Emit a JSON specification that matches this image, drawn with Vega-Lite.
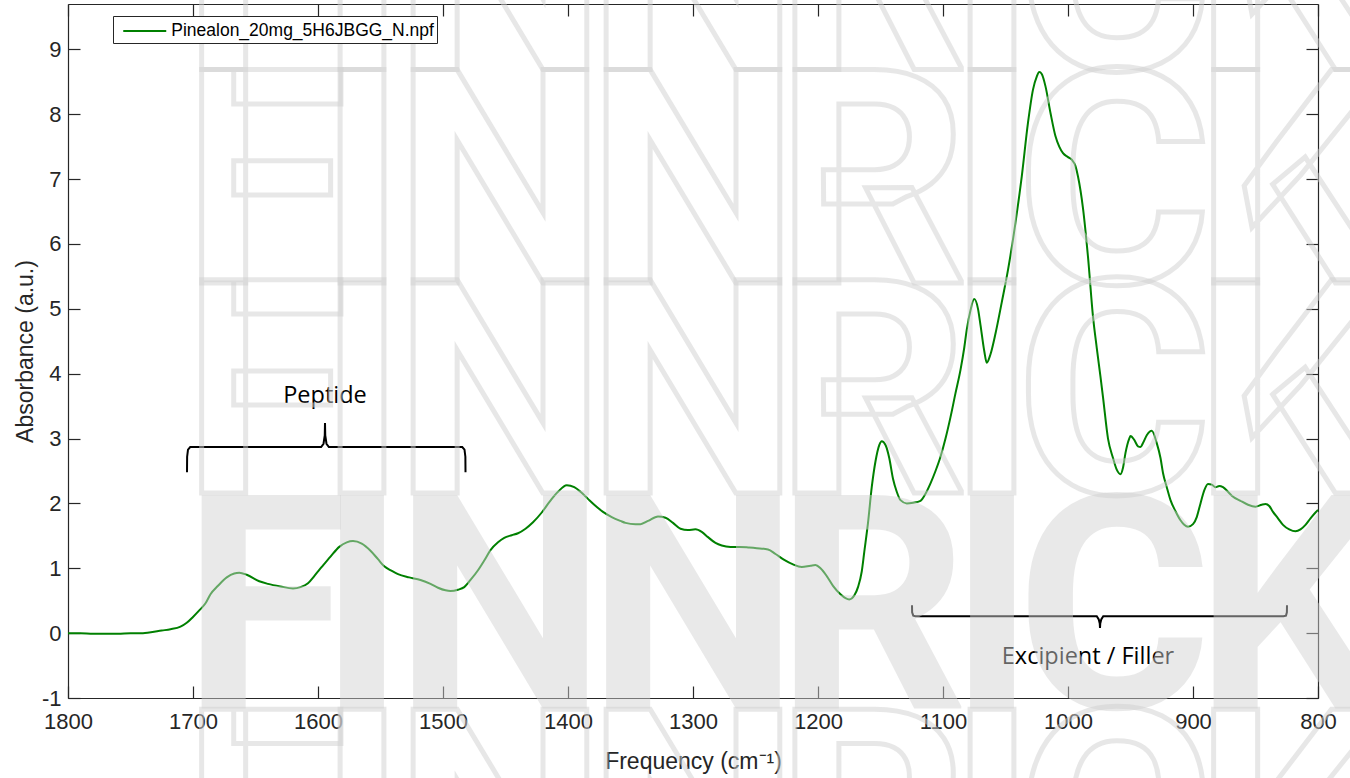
{
  "$schema": "https://vega.github.io/schema/vega-lite/v6.json",
  "width": 1250,
  "height": 694,
  "autosize": "none",
  "padding": {"left": 68, "top": 4, "right": 32, "bottom": 80},
  "background": "white",
  "config": {
    "view": {"stroke": null},
    "axis": {
      "domainColor": "#262626", "tickColor": "#262626", "labelColor": "#262626", "titleColor": "#262626",
      "labelFont": "Liberation Sans", "titleFont": "Liberation Sans", "labelFontSize": 22, "titleFontSize": 23,
      "titleFontWeight": "normal", "tickSize": -12, "grid": false, "zindex": 1, "domainWidth": 1.2, "tickWidth": 1.2,
      "labelFlush": false, "labelOverlap": false
    }
  },
  "datasets": {
    "spectrum": [
      {"x":1800,"y":0.0},{"x":1790,"y":0.0},{"x":1780,"y":-0.01},{"x":1770,"y":-0.01},{"x":1760,"y":-0.01},{"x":1750,"y":0.0},{"x":1740,"y":0.0},{"x":1735,"y":0.01},{"x":1725,"y":0.04},{"x":1718,"y":0.06},{"x":1710,"y":0.10},{"x":1705,"y":0.16},{"x":1700,"y":0.25},{"x":1695,"y":0.35},{"x":1690,"y":0.46},{"x":1686,"y":0.60},{"x":1680,"y":0.73},{"x":1673,"y":0.86},{"x":1667,"y":0.92},{"x":1663,"y":0.93},{"x":1657,"y":0.90},{"x":1647,"y":0.80},{"x":1640,"y":0.76},{"x":1630,"y":0.72},{"x":1620,"y":0.69},{"x":1614,"y":0.71},{"x":1608,"y":0.77},{"x":1603,"y":0.88},{"x":1597,"y":1.02},{"x":1590,"y":1.18},{"x":1583,"y":1.33},{"x":1577,"y":1.40},{"x":1572,"y":1.42},{"x":1565,"y":1.38},{"x":1558,"y":1.27},{"x":1552,"y":1.14},{"x":1547,"y":1.03},{"x":1541,"y":0.96},{"x":1536,"y":0.91},{"x":1527,"y":0.86},{"x":1518,"y":0.82},{"x":1510,"y":0.76},{"x":1504,"y":0.70},{"x":1498,"y":0.66},{"x":1494,"y":0.65},{"x":1488,"y":0.67},{"x":1483,"y":0.71},{"x":1478,"y":0.82},{"x":1472,"y":0.97},{"x":1467,"y":1.12},{"x":1462,"y":1.28},{"x":1456,"y":1.40},{"x":1451,"y":1.47},{"x":1445,"y":1.51},{"x":1440,"y":1.54},{"x":1434,"y":1.61},{"x":1428,"y":1.71},{"x":1421,"y":1.86},{"x":1415,"y":2.02},{"x":1408,"y":2.18},{"x":1401,"y":2.28},{"x":1395,"y":2.25},{"x":1390,"y":2.18},{"x":1384,"y":2.07},{"x":1379,"y":1.98},{"x":1372,"y":1.87},{"x":1365,"y":1.79},{"x":1358,"y":1.73},{"x":1354,"y":1.70},{"x":1346,"y":1.68},{"x":1342,"y":1.68},{"x":1336,"y":1.73},{"x":1328,"y":1.80},{"x":1322,"y":1.78},{"x":1316,"y":1.70},{"x":1310,"y":1.61},{"x":1304,"y":1.59},{"x":1298,"y":1.60},{"x":1293,"y":1.56},{"x":1288,"y":1.48},{"x":1282,"y":1.39},{"x":1277,"y":1.35},{"x":1270,"y":1.33},{"x":1263,"y":1.33},{"x":1255,"y":1.32},{"x":1249,"y":1.31},{"x":1240,"y":1.29},{"x":1234,"y":1.22},{"x":1227,"y":1.13},{"x":1220,"y":1.06},{"x":1213,"y":1.02},{"x":1206,"y":1.04},{"x":1202,"y":1.05},{"x":1198,"y":1.00},{"x":1193,"y":0.88},{"x":1188,"y":0.73},{"x":1182,"y":0.60},{"x":1178,"y":0.54},{"x":1175,"y":0.52},{"x":1171,"y":0.58},{"x":1168,"y":0.71},{"x":1165,"y":0.95},{"x":1163,"y":1.25},{"x":1160,"y":1.70},{"x":1157,"y":2.25},{"x":1154,"y":2.65},{"x":1151,"y":2.90},{"x":1149,"y":2.96},{"x":1146,"y":2.90},{"x":1143,"y":2.70},{"x":1140,"y":2.38},{"x":1137,"y":2.18},{"x":1134,"y":2.05},{"x":1129,"y":2.00},{"x":1124,"y":2.01},{"x":1118,"y":2.04},{"x":1114,"y":2.15},{"x":1110,"y":2.31},{"x":1106,"y":2.50},{"x":1102,"y":2.72},{"x":1098,"y":3.00},{"x":1094,"y":3.33},{"x":1090,"y":3.70},{"x":1086,"y":4.06},{"x":1083,"y":4.40},{"x":1081,"y":4.68},{"x":1078,"y":4.98},{"x":1075,"y":5.15},{"x":1072,"y":5.00},{"x":1070,"y":4.75},{"x":1067,"y":4.35},{"x":1065,"y":4.17},{"x":1062,"y":4.30},{"x":1058,"y":4.62},{"x":1053,"y":5.10},{"x":1048,"y":5.60},{"x":1042,"y":6.33},{"x":1037,"y":7.04},{"x":1032,"y":7.87},{"x":1028,"y":8.38},{"x":1025,"y":8.58},{"x":1023,"y":8.65},{"x":1021,"y":8.62},{"x":1018,"y":8.43},{"x":1014,"y":8.02},{"x":1010,"y":7.66},{"x":1007,"y":7.50},{"x":1004,"y":7.40},{"x":1000,"y":7.34},{"x":997,"y":7.30},{"x":994,"y":7.20},{"x":992,"y":7.04},{"x":988,"y":6.55},{"x":984,"y":5.80},{"x":980,"y":4.88},{"x":977,"y":4.40},{"x":974,"y":3.95},{"x":972,"y":3.64},{"x":968,"y":3.00},{"x":964,"y":2.70},{"x":961,"y":2.52},{"x":958,"y":2.45},{"x":956,"y":2.55},{"x":954,"y":2.78},{"x":951,"y":3.00},{"x":950,"y":3.04},{"x":947,"y":2.98},{"x":944,"y":2.88},{"x":942,"y":2.87},{"x":940,"y":2.93},{"x":937,"y":3.05},{"x":933,"y":3.12},{"x":929,"y":2.93},{"x":926,"y":2.70},{"x":924,"y":2.47},{"x":921,"y":2.25},{"x":918,"y":2.05},{"x":914,"y":1.88},{"x":910,"y":1.74},{"x":907,"y":1.67},{"x":904,"y":1.64},{"x":900,"y":1.68},{"x":897,"y":1.79},{"x":894,"y":2.00},{"x":891,"y":2.20},{"x":888,"y":2.30},{"x":885,"y":2.29},{"x":882,"y":2.25},{"x":879,"y":2.27},{"x":876,"y":2.25},{"x":872,"y":2.18},{"x":869,"y":2.12},{"x":862,"y":2.04},{"x":856,"y":1.98},{"x":850,"y":1.95},{"x":845,"y":1.98},{"x":842,"y":1.99},{"x":839,"y":1.96},{"x":836,"y":1.87},{"x":832,"y":1.77},{"x":828,"y":1.67},{"x":823,"y":1.60},{"x":818,"y":1.57},{"x":814,"y":1.60},{"x":810,"y":1.67},{"x":806,"y":1.77},{"x":802,"y":1.86},{"x":800,"y":1.90}
    ],
    "brackets": [
      {"group":"peptide","i":0,"x":1704.8,"y":2.48},{"group":"peptide","i":1,"x":1704.7,"y":2.72},{"group":"peptide","i":2,"x":1704.0,"y":2.83},{"group":"peptide","i":3,"x":1702.2,"y":2.87},{"group":"peptide","i":4,"x":1597.5,"y":2.87},{"group":"peptide","i":5,"x":1595.6,"y":2.92},{"group":"peptide","i":6,"x":1594.6,"y":3.05},{"group":"peptide","i":7,"x":1594.4,"y":3.24},{"group":"peptide","i":8,"x":1594.2,"y":3.05},{"group":"peptide","i":9,"x":1593.2,"y":2.92},{"group":"peptide","i":10,"x":1591.3,"y":2.87},{"group":"peptide","i":11,"x":1484.6,"y":2.87},{"group":"peptide","i":12,"x":1482.8,"y":2.83},{"group":"peptide","i":13,"x":1482.1,"y":2.72},{"group":"peptide","i":14,"x":1482.0,"y":2.48},
      {"group":"excipient","i":0,"x":1124.8,"y":0.43},{"group":"excipient","i":1,"x":1124.7,"y":0.32},{"group":"excipient","i":2,"x":1123.8,"y":0.27},{"group":"excipient","i":3,"x":1122.0,"y":0.26},{"group":"excipient","i":4,"x":977.0,"y":0.26},{"group":"excipient","i":5,"x":975.4,"y":0.21},{"group":"excipient","i":6,"x":974.6,"y":0.15},{"group":"excipient","i":7,"x":974.4,"y":0.08},{"group":"excipient","i":8,"x":974.2,"y":0.15},{"group":"excipient","i":9,"x":973.4,"y":0.21},{"group":"excipient","i":10,"x":971.8,"y":0.26},{"group":"excipient","i":11,"x":827.6,"y":0.26},{"group":"excipient","i":12,"x":825.6,"y":0.27},{"group":"excipient","i":13,"x":824.9,"y":0.32},{"group":"excipient","i":14,"x":824.8,"y":0.43}
    ],
    "labels": [
      {"text":"Peptide","x":1594.4,"y":3.55},
      {"text":"Excipient / Filler","x":984,"y":-0.48}
    ],
    "watermark": [
      {"row":"A","letter":"F","x":1642.4,"y":8.69,"style":"outline"},{"row":"A","letter":"I","x":1564.8,"y":8.69,"style":"outline"},{"row":"A","letter":"N","x":1454.4,"y":8.69,"style":"outline"},{"row":"A","letter":"N","x":1300.0,"y":8.69,"style":"outline"},{"row":"A","letter":"R","x":1156.8,"y":8.69,"style":"outline"},{"row":"A","letter":"I","x":1060.8,"y":8.69,"style":"outline"},{"row":"A","letter":"C","x":963.2,"y":8.69,"style":"outline"},{"row":"A","letter":"K","x":822.4,"y":8.69,"style":"outline"},
      {"row":"B","letter":"F","x":1642.4,"y":5.40,"style":"outline"},{"row":"B","letter":"I","x":1564.8,"y":5.40,"style":"outline"},{"row":"B","letter":"N","x":1454.4,"y":5.40,"style":"outline"},{"row":"B","letter":"N","x":1300.0,"y":5.40,"style":"outline"},{"row":"B","letter":"R","x":1156.8,"y":5.40,"style":"outline"},{"row":"B","letter":"I","x":1060.8,"y":5.40,"style":"outline"},{"row":"B","letter":"C","x":963.2,"y":5.40,"style":"outline"},{"row":"B","letter":"K","x":822.4,"y":5.40,"style":"outline"},
      {"row":"C","letter":"F","x":1642.4,"y":2.16,"style":"outline"},{"row":"C","letter":"I","x":1564.8,"y":2.16,"style":"outline"},{"row":"C","letter":"N","x":1454.4,"y":2.16,"style":"outline"},{"row":"C","letter":"N","x":1300.0,"y":2.16,"style":"outline"},{"row":"C","letter":"R","x":1156.8,"y":2.16,"style":"outline"},{"row":"C","letter":"I","x":1060.8,"y":2.16,"style":"outline"},{"row":"C","letter":"C","x":963.2,"y":2.16,"style":"outline"},{"row":"C","letter":"K","x":822.4,"y":2.16,"style":"outline"},
      {"row":"D","letter":"F","x":1642.4,"y":-1.16,"style":"filled"},{"row":"D","letter":"I","x":1564.8,"y":-1.16,"style":"filled"},{"row":"D","letter":"N","x":1454.4,"y":-1.16,"style":"filled"},{"row":"D","letter":"N","x":1300.0,"y":-1.16,"style":"filled"},{"row":"D","letter":"R","x":1156.8,"y":-1.16,"style":"filled"},{"row":"D","letter":"I","x":1060.8,"y":-1.16,"style":"filled"},{"row":"D","letter":"C","x":963.2,"y":-1.16,"style":"filled"},{"row":"D","letter":"K","x":822.4,"y":-1.16,"style":"filled"},
      {"row":"E","letter":"F","x":1642.4,"y":-4.46,"style":"outline"},{"row":"E","letter":"I","x":1564.8,"y":-4.46,"style":"outline"},{"row":"E","letter":"N","x":1454.4,"y":-4.46,"style":"outline"},{"row":"E","letter":"N","x":1300.0,"y":-4.46,"style":"outline"},{"row":"E","letter":"R","x":1156.8,"y":-4.46,"style":"outline"},{"row":"E","letter":"I","x":1060.8,"y":-4.46,"style":"outline"},{"row":"E","letter":"C","x":963.2,"y":-4.46,"style":"outline"},{"row":"E","letter":"K","x":822.4,"y":-4.46,"style":"outline"}
    ]
  },
  "layer": [
    {
      "data": {"name": "spectrum"},
      "transform": [{"calculate": "'Pinealon_20mg_5H6JBGG_N.npf'", "as": "series"}],
      "mark": {"type": "line", "strokeWidth": 2, "interpolate": "monotone"},
      "encoding": {
        "x": {"field": "x", "type": "quantitative",
              "scale": {"domain": [800, 1800], "reverse": true, "nice": false, "zero": false},
              "axis": {"values": [800,900,1000,1100,1200,1300,1400,1500,1600,1700,1800], "labelExpr": "'' + datum.value", "labelPadding": 25, "title": "Frequency (cm⁻¹)", "titlePadding": 18}},
        "y": {"field": "y", "type": "quantitative",
              "scale": {"domain": [-1, 9.7], "nice": false, "zero": false},
              "axis": {"values": [-1,0,1,2,3,4,5,6,7,8,9], "labelExpr": "'' + datum.value", "labelPadding": 19, "title": "Absorbance (a.u.)", "titlePadding": 4}},
        "color": {"field": "series", "type": "nominal",
                  "scale": {"range": ["#008000"]},
                  "legend": {"orient": "none", "legendX": 45, "legendY": 12, "title": null,
                             "symbolType": "M-2,0H2", "symbolSize": 462, "symbolStrokeWidth": 2,
                             "labelFont": "Liberation Sans", "labelFontSize": 17.5, "labelColor": "#000000", "labelLimit": 500,
                             "strokeColor": "#262626", "fillColor": "white", "padding": 3, "symbolOffset": 16.75, "labelOffset": 14.5}}
      }
    },
    {
      "data": {"name": "brackets"},
      "mark": {"type": "line", "color": "#000000", "strokeWidth": 2},
      "encoding": {
        "x": {"field": "x", "type": "quantitative", "scale": {"domain": [800, 1800], "reverse": true, "nice": false, "zero": false}, "axis": null},
        "y": {"field": "y", "type": "quantitative", "scale": {"domain": [-1, 9.7], "nice": false, "zero": false}, "axis": null},
        "detail": {"field": "group"},
        "order": {"field": "i", "type": "quantitative"}
      }
    },
    {
      "data": {"name": "labels"},
      "mark": {"type": "text", "font": "Open Sans", "fontSize": 23.5, "color": "#000000", "align": "center", "baseline": "alphabetic"},
      "encoding": {
        "x": {"field": "x", "type": "quantitative", "scale": {"domain": [800, 1800], "reverse": true, "nice": false, "zero": false}, "axis": null},
        "y": {"field": "y", "type": "quantitative", "scale": {"domain": [-1, 9.7], "nice": false, "zero": false}, "axis": null},
        "text": {"field": "text"}
      }
    },
    {
      "data": {"name": "watermark"},
      "transform": [{"filter": "datum.style == 'outline'"}],
      "mark": {"type": "text", "font": "Roboto", "fontWeight": "bold", "fontSize": 300,
               "align": "center", "baseline": "alphabetic", "fill": "transparent", "stroke": "#d0d0d0", "strokeOpacity": 0.5, "strokeWidth": 5},
      "encoding": {
        "x": {"field": "x", "type": "quantitative", "scale": {"domain": [800, 1800], "reverse": true, "nice": false, "zero": false}, "axis": null},
        "y": {"field": "y", "type": "quantitative", "scale": {"domain": [-1, 9.7], "nice": false, "zero": false}, "axis": null},
        "text": {"field": "letter"}
      }
    },
    {
      "data": {"name": "watermark"},
      "transform": [{"filter": "datum.style == 'filled'"}],
      "mark": {"type": "text", "font": "Roboto", "fontWeight": "bold", "fontSize": 300,
               "align": "center", "baseline": "alphabetic", "fill": "#d0d0d0", "fillOpacity": 0.48},
      "encoding": {
        "x": {"field": "x", "type": "quantitative", "scale": {"domain": [800, 1800], "reverse": true, "nice": false, "zero": false}, "axis": null},
        "y": {"field": "y", "type": "quantitative", "scale": {"domain": [-1, 9.7], "nice": false, "zero": false}, "axis": null},
        "text": {"field": "letter"}
      }
    },
    {
      "data": {"name": "spectrum"},
      "mark": {"type": "line", "strokeOpacity": 0},
      "encoding": {
        "x": {"field": "x", "type": "quantitative", "scale": {"domain": [800, 1800], "reverse": true, "nice": false, "zero": false},
              "axis": {"orient": "top", "values": [800,900,1000,1100,1200,1300,1400,1500,1600,1700,1800], "labels": false, "title": null}},
        "y": {"field": "y", "type": "quantitative", "scale": {"domain": [-1, 9.7], "nice": false, "zero": false},
              "axis": {"orient": "right", "values": [-1,0,1,2,3,4,5,6,7,8,9], "labels": false, "title": null}}
      }
    }
  ],
  "resolve": {"axis": {"x": "independent", "y": "independent"}}
}
